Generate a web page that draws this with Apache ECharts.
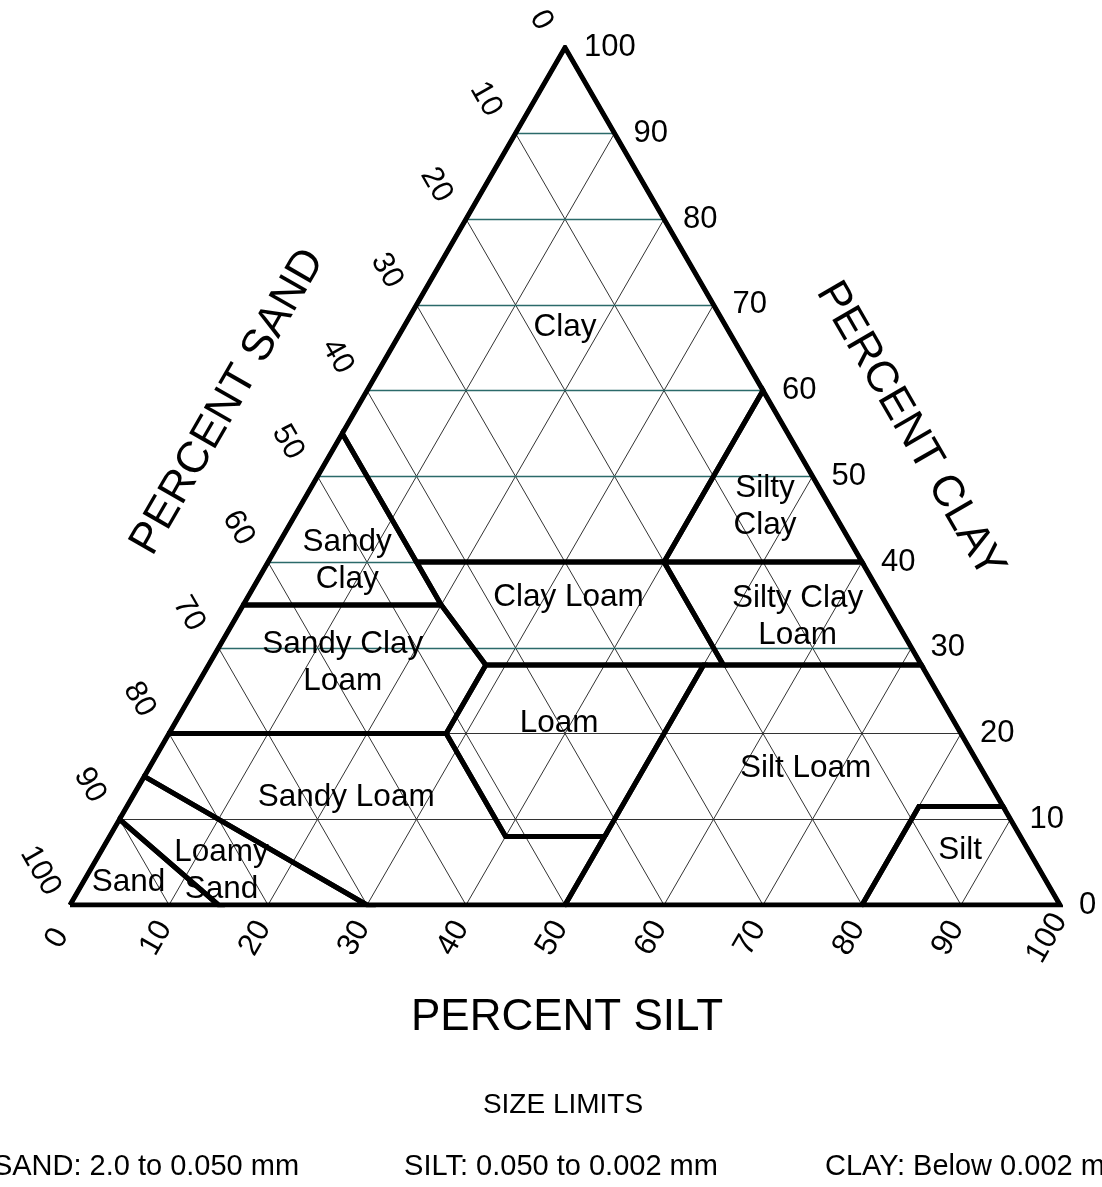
<!DOCTYPE html>
<html>
<head>
<meta charset="utf-8">
<title>Soil texture triangle</title>
<script src="https://cdn.jsdelivr.net/npm/echarts@6/dist/echarts.min.js"></script>
<style>
  html, body { margin: 0; padding: 0; background: #fff; }
  #main { width: 1102px; height: 1187px; }
</style>
</head>
<body>
<div id="main"></div>
<script>
// every point below is [sand, silt, clay] in percent
var ticks = [0, 10, 20, 30, 40, 50, 60, 70, 80, 90, 100];
var gridSteps = [10, 20, 30, 40, 50, 60, 70, 80, 90];

var classNames = [
  "Sand", "Loamy\nSand", "Sandy Loam", "Loam", "Silt Loam", "Silt",
  "Sandy Clay\nLoam", "Clay Loam", "Silty Clay\nLoam", "Sandy\nClay", "Silty\nClay", "Clay"
];
var classShapes = [
  [[100, 0, 0], [85, 15, 0], [90, 0, 10]],
  [[90, 0, 10], [85, 15, 0], [70, 30, 0], [85, 0, 15]],
  [[85, 0, 15], [70, 30, 0], [50, 50, 0], [42, 50, 8], [52, 40, 8], [52, 28, 20], [80, 0, 20]],
  [[42, 50, 8], [22, 50, 28], [44, 28, 28], [52, 28, 20], [52, 40, 8]],
  [[50, 50, 0], [20, 80, 0], [8.5, 80, 11.5], [0, 88.5, 11.5], [0, 72, 28], [22, 50, 28], [42, 50, 8]],
  [[20, 80, 0], [0, 100, 0], [0, 88.5, 11.5], [8.5, 80, 11.5]],
  [[80, 0, 20], [52, 28, 20], [44, 28, 28], [45, 20, 35], [65, 0, 35]],
  [[44, 28, 28], [20, 52, 28], [20, 40, 40], [45, 15, 40], [45, 20, 35]],
  [[20, 52, 28], [0, 72, 28], [0, 60, 40], [20, 40, 40]],
  [[65, 0, 35], [45, 20, 35], [45, 0, 55]],
  [[20, 40, 40], [0, 60, 40], [0, 40, 60]],
  [[45, 0, 55], [45, 15, 40], [20, 40, 40], [0, 40, 60], [0, 0, 100]]
];
// where each class name sits
var classLabelAt = [
  [92.8, 4.6, 2.6], [82.7, 13.3, 4], [65.8, 21.6, 12.6], [40, 38.8, 21.2], [17.7, 66.3, 16], [6.9, 86.7, 6.4],
  [58.3, 13.4, 28.3], [31.7, 32.4, 35.9], [9.7, 56.7, 33.6], [51.9, 7.9, 40.2], [6.6, 47, 46.4], [16.3, 16.3, 67.4]
];

var R3 = Math.sqrt(3) / 2;
function toXY(p) {
  return [p[1] + p[2] / 2, p[2] * R3];
}

var FONT = "'Liberation Sans', Arial, sans-serif";

// thin grid lines
var gridTeal = [], gridDark = [];
gridSteps.forEach(function (k) {
  var h = { coords: [toXY([100 - k, 0, k]), toXY([0, 100 - k, k])] };
  if (k >= 30) gridTeal.push(h); else gridDark.push(h);
  gridDark.push({ coords: [toXY([100 - k, k, 0]), toXY([0, k, 100 - k])] });
  gridDark.push({ coords: [toXY([k, 100 - k, 0]), toXY([k, 0, 100 - k])] });
});

var shapeLines = classShapes.map(function (s) {
  var c = s.map(toXY);
  c.push(c[0]);
  return { coords: c };
});

var outline = [{ coords: [toXY([100, 0, 0]), toXY([0, 100, 0]), toXY([0, 0, 100]), toXY([100, 0, 0])] }];

// tick label anchors, shifted off the edge in data units
var siltTicks = ticks.map(function (t) {
  var p = toXY([100 - t, t, 0]);
  return [p[0] - 1.3, p[1] - 3.35, t];
});
var sandTicks = ticks.map(function (t) {
  var p = toXY([t, 0, 100 - t]);
  // single digit sits a little closer to the corner
  var k = t === 0 ? 0.8 : 1;
  return [p[0] - 3.0 * k, p[1] + 3.45 * k, t];
});
var clayTicks = ticks.map(function (t) {
  var p = toXY([0, 100 - t, t]);
  return [p[0], p[1], t];
});

var classLabels = classLabelAt.map(function (p, i) {
  return { name: classNames[i], value: toXY(p) };
});

function tickSeries(data, rot, pos) {
  return {
    type: "scatter",
    data: data,
    symbolSize: 0,
    clip: false,
    itemStyle: { color: "#000" },
    silent: true,
    z: 10,
    label: {
      show: true,
      position: pos || "inside",
      distance: 19,
      rotate: rot,
      formatter: function (p) { return p.value[2]; },
      color: "#000",
      opacity: 1,
      textBorderWidth: 0,
      fontSize: 31,
      fontFamily: FONT
    }
  };
}

var chart = echarts.init(document.getElementById("main"));
chart.setOption({
  backgroundColor: "#fff",
  animation: false,
  grid: { left: 70, right: 42, top: 47.6, bottom: 282 },
  xAxis: { type: "value", min: 0, max: 100, show: false },
  yAxis: { type: "value", min: 0, max: 50 * Math.sqrt(3), show: false },
  series: [
    {
      type: "lines", coordinateSystem: "cartesian2d", data: gridDark, silent: true, z: 1,
      lineStyle: { color: "#333", width: 1, opacity: 1 }
    },
    {
      type: "lines", coordinateSystem: "cartesian2d", data: gridTeal, silent: true, z: 2,
      lineStyle: { color: "#2b6a6a", width: 1.3, opacity: 1 }
    },
    {
      type: "lines", coordinateSystem: "cartesian2d", polyline: true, data: shapeLines, silent: true, z: 3,
      lineStyle: { color: "#000", width: 5, opacity: 1, join: "miter" }
    },
    {
      type: "lines", coordinateSystem: "cartesian2d", polyline: true, data: outline, silent: true, z: 4,
      lineStyle: { color: "#000", width: 4, opacity: 1, join: "miter" }
    },
    tickSeries(siltTicks, 60),
    tickSeries(sandTicks, -60),
    tickSeries(clayTicks, 0, "right"),
    {
      type: "scatter",
      data: classLabels,
      symbolSize: 0,
      clip: false,
      itemStyle: { color: "#000" },
      silent: true,
      z: 11,
      label: {
        show: true,
        position: "inside",
        formatter: "{b}",
        color: "#000",
        opacity: 1,
        textBorderWidth: 0,
        fontSize: 31.5,
        lineHeight: 37,
        fontFamily: FONT
      }
    }
  ],
  graphic: [
    {
      type: "text", x: 228, y: 402, rotation: Math.PI / 3,
      style: { text: "PERCENT SAND", font: "44px " + FONT, fill: "#000", textAlign: "center", textVerticalAlign: "middle" }
    },
    {
      type: "text", x: 910, y: 430, rotation: -Math.PI / 3,
      style: { text: "PERCENT CLAY", font: "44px " + FONT, fill: "#000", textAlign: "center", textVerticalAlign: "middle" }
    },
    {
      type: "text", x: 567, y: 1018,
      style: { text: "PERCENT SILT", font: "44px " + FONT, fill: "#000", textAlign: "center", textVerticalAlign: "middle" }
    },
    {
      type: "text", x: 563, y: 1105,
      style: { text: "SIZE LIMITS", font: "28px " + FONT, fill: "#000", textAlign: "center", textVerticalAlign: "middle" }
    },
    {
      type: "text", x: 146, y: 1167,
      style: { text: "SAND: 2.0 to 0.050 mm", font: "29px " + FONT, fill: "#000", textAlign: "center", textVerticalAlign: "middle" }
    },
    {
      type: "text", x: 561, y: 1167,
      style: { text: "SILT: 0.050 to 0.002 mm", font: "29px " + FONT, fill: "#000", textAlign: "center", textVerticalAlign: "middle" }
    },
    {
      type: "text", x: 977, y: 1167,
      style: { text: "CLAY: Below 0.002 mm", font: "29px " + FONT, fill: "#000", textAlign: "center", textVerticalAlign: "middle" }
    }
  ]
});
</script>
</body>
</html>
